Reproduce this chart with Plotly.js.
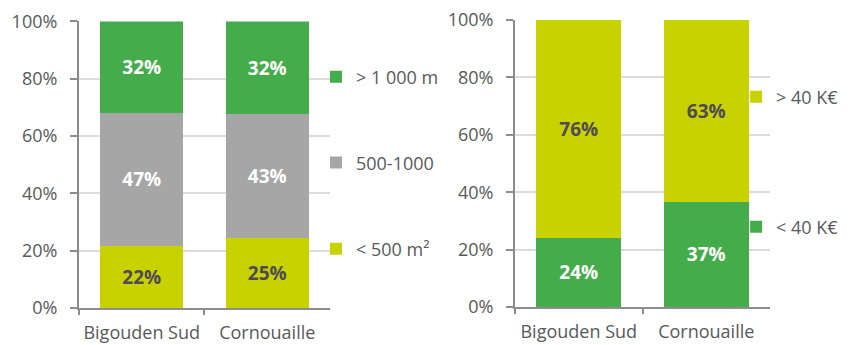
<!DOCTYPE html>
<html>
<head>
<meta charset="utf-8">
<script src="https://cdn.plot.ly/plotly-3.0.1.min.js"></script>
<style>html,body{margin:0;padding:0;background:#fff;}#chart{width:851px;height:345px;}</style>
</head>
<body>
<div id="chart"></div>
<script>
// Categories
var categories = ["Bigouden Sud", "Cornouaille"];

// Left chart: surface shares
var surfaceNames = ["< 500 m²", "500-1000", "> 1 000 m"];
var surfaceSmall = [0.216, 0.246];
var surfaceMid   = [0.466, 0.432];
var surfaceLarge = [0.318, 0.322];

// Right chart: price shares
var priceNames = ["< 40 K€", "> 40 K€"];
var priceLow  = [0.242, 0.367];
var priceHigh = [0.758, 0.633];

var GREEN = "#45ac4b", GREY = "#a6a6a6", YELLOW = "#c8d200";
var DARK = "#4f4a55", WHITE = "#ffffff";
var FONT = "Open Sans";

function barTrace(name, y, color, textColor, xa, ya, legend) {
  return {
    type: "bar", name: name, x: categories, y: y,
    xaxis: xa, yaxis: ya, legend: legend,
    marker: {color: color, line: {width: 0}},
    texttemplate: "%{y:.0%}", textposition: "inside",
    insidetextanchor: "middle", textangle: 0, constraintext: "none",
    insidetextfont: {family: FONT, size: 19, color: textColor, weight: "bold"},
    hoverinfo: "skip"
  };
}

var data = [
  barTrace(surfaceNames[0], surfaceSmall, YELLOW, DARK, "x", "y", "legend3"),
  barTrace(surfaceNames[1], surfaceMid, GREY, WHITE, "x", "y", "legend2"),
  barTrace(surfaceNames[2], surfaceLarge, GREEN, WHITE, "x", "y", "legend"),
  barTrace(priceNames[0], priceLow, GREEN, WHITE, "x2", "y2", "legend5"),
  barTrace(priceNames[1], priceHigh, YELLOW, DARK, "x2", "y2", "legend4")
];

var axisCol = "#8c8c8c", gridCol = "#dcdcdc", txtCol = "#58595b";

function yAxis(domain, anchor) {
  return {
    domain: domain, anchor: anchor, range: [0, 1], dtick: 0.2, tick0: 0,
    tickformat: ".0%", ticks: "outside", ticklen: 7, tickwidth: 2, tickcolor: axisCol,
    showline: true, linecolor: axisCol, linewidth: 2,
    showgrid: true, gridcolor: gridCol, gridwidth: 2, zeroline: false,
    tickfont: {family: FONT, size: 18, color: txtCol}, ticklabelstandoff: 9,
    fixedrange: true
  };
}
function xAxis(domain, anchor) {
  return {
    domain: domain, anchor: anchor, type: "category", tickangle: 0, automargin: false,
    ticks: "outside", tickson: "boundaries", ticklen: 5, tickwidth: 2, tickcolor: axisCol,
    showline: true, linecolor: axisCol, linewidth: 2, showgrid: false,
    tickfont: {family: FONT, size: 18, color: txtCol}, ticklabelstandoff: 7,
    fixedrange: true
  };
}
function leg(x, y) {
  return {x: x, y: y, xanchor: "left", yanchor: "middle", bgcolor: "rgba(0,0,0,0)",
          font: {family: FONT, size: 18, color: txtCol}, borderwidth: 0};
}

var layout = {
  width: 851, height: 345, autosize: false,
  margin: {l: 0, r: 0, t: 0, b: 0, pad: 0},
  paper_bgcolor: "#fff", plot_bgcolor: "#fff",
  barmode: "stack", bargap: 0.336,
  showlegend: true,
  xaxis: xAxis([0.0928, 0.3878], "y"),
  yaxis: yAxis([0.1072, 0.9377], "x"),
  xaxis2: xAxis([0.6052, 0.9048], "y2"),
  yaxis2: yAxis([0.1101, 0.9420], "x2"),
  legend: leg(0.3713, 0.777),
  legend2: leg(0.3713, 0.528),
  legend3: leg(0.3713, 0.278),
  legend4: leg(0.865, 0.719),
  legend5: leg(0.865, 0.342),
  hovermode: false
};

Plotly.newPlot("chart", data, layout, {staticPlot: true, displayModeBar: false});
</script>
</body>
</html>
